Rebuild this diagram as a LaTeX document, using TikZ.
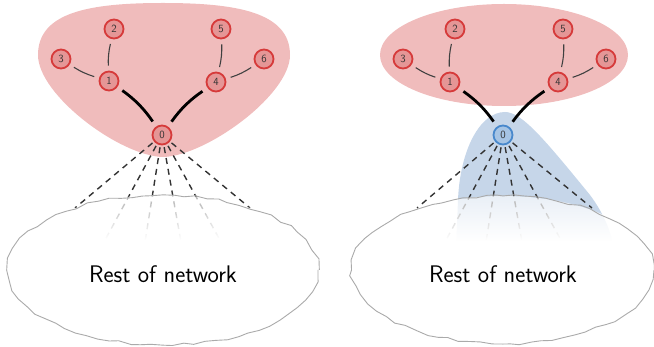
\documentclass[tikz,border=0pt]{standalone}
\usepackage{tikz}
\usetikzlibrary{arrows.meta,calc,positioning,decorations.pathmorphing,fadings}

\definecolor{blobred}{RGB}{240,188,188}
\definecolor{nodered}{RGB}{229,150,150}
\definecolor{rimred}{RGB}{214,58,58}
\definecolor{blobblue}{RGB}{198,214,233}
\definecolor{nodeblue}{RGB}{166,196,228}
\definecolor{rimblue}{RGB}{72,136,204}
\definecolor{cloudgray}{RGB}{170,170,170}

% Zanikanie wewnątrz chmury
\begin{tikzfadingfrompicture}[name=cloudfade]
  \shade[top color=transparent!100, bottom color=transparent!0]
      (-50bp,50bp) rectangle (50bp,10bp);
  \fill[transparent!0]
      (-50bp,10bp) rectangle (50bp,-50bp);
\end{tikzfadingfrompicture}

\begin{document}
\begin{tikzpicture}[
    x=1pt,
    y=-1pt,
    rednode/.style={circle, draw=rimred, fill=nodered, line width=1.8pt,
        minimum size=19pt, inner sep=0pt,
        font=\fontsize{11}{13}\sffamily, text=black!80},
    bluenode/.style={rednode, draw=rimblue, fill=nodeblue},
    thinedge/.style={line width=1.1pt, black!75,
        shorten <=5pt, shorten >=5pt},
    thickedge/.style={line width=2.8pt,
        shorten <=6pt, shorten >=6pt},
    rayline/.style={line width=1.4pt, black!80,
        dash pattern=on 6pt off 5pt, shorten <=2pt},
    cloudline/.style={draw=cloudgray, line width=0.9pt, decorate,
        decoration={random steps, segment length=11pt, amplitude=1.6pt}},
    cloudtext/.style={font=\fontsize{24}{28}\sffamily}
]

\useasboundingbox (0,0) rectangle (654,347);

% Obszar czerwony - lewa część
\fill[blobred]
    (163,157)
    .. controls (120,156) and (38,95) ..
    (38,55)
    .. controls (38,12) and (90,3) ..
    (163,3)
    .. controls (236,3) and (290,12) ..
    (290,55)
    .. controls (290,95) and (206,156) ..
    (163,157);

% Obszar czerwony - prawa część
\fill[blobred]
    (504,55) ellipse (124 and 51);

% Obszar niebieski
\fill[blobblue]
    (456,250)
    --
    (458,200)
    .. controls (460,150) and (480,112) ..
    (505,112)
    .. controls (522,112) and (545,140) ..
    (590,195)
    .. controls (605,215) and (612,235) ..
    (614,250)
    --
    cycle;

% Węzły - lewa część
\node[rednode] (a0) at (162,135) {0};
\node[rednode] (a1) at (109,81) {1};
\node[rednode] (a2) at (114,29) {2};
\node[rednode] (a3) at (61,59) {3};
\node[rednode] (a4) at (216,82) {4};
\node[rednode] (a5) at (221,29) {5};
\node[rednode] (a6) at (264,59) {6};

% Węzły - prawa część
\node[bluenode] (b0) at (503,135) {0};
\node[rednode] (b1) at (450,82) {1};
\node[rednode] (b2) at (455,29) {2};
\node[rednode] (b3) at (403,59) {3};
\node[rednode] (b4) at (558,82) {4};
\node[rednode] (b5) at (563,29) {5};
\node[rednode] (b6) at (606,59) {6};

% Końce promieni
\coordinate (ra1) at (75,208);
\coordinate (ra2) at (104,242);
\coordinate (ra3) at (145,242);
\coordinate (ra4) at (181,242);
\coordinate (ra5) at (221,242);
\coordinate (ra6) at (250,208);

\coordinate (rb1) at (417,208);
\coordinate (rb2) at (445,242);
\coordinate (rb3) at (486,242);
\coordinate (rb4) at (522,242);
\coordinate (rb5) at (562,242);
\coordinate (rb6) at (592,208);

% Promienie przerywane
\draw[rayline] (a0) -- (ra1);
\draw[rayline] (a0) -- (ra2);
\draw[rayline] (a0) -- (ra3);
\draw[rayline] (a0) -- (ra4);
\draw[rayline] (a0) -- (ra5);
\draw[rayline] (a0) -- (ra6);

\draw[rayline] (b0) -- (rb1);
\draw[rayline] (b0) -- (rb2);
\draw[rayline] (b0) -- (rb3);
\draw[rayline] (b0) -- (rb4);
\draw[rayline] (b0) -- (rb5);
\draw[rayline] (b0) -- (rb6);

% Biały gradient w chmurach
\fill[white, path fading=cloudfade]
    (163,270) ellipse (155 and 75);
\fill[white, path fading=cloudfade]
    (503,270) ellipse (151 and 74);

% Chmury
\pgfmathsetseed{11}
\draw[cloudline]
    (163,270) ellipse (155 and 75);
\pgfmathsetseed{23}
\draw[cloudline]
    (503,270) ellipse (151 and 74);

\node[cloudtext] (ta) at (163,274) {Rest of network};
\node[cloudtext] (tb) at (503,274) {Rest of network};

% Krawędzie cienkie
\draw[thinedge] (a1) to[bend left=8] (a2);
\draw[thinedge] (a1) to[bend left=8] (a3);
\draw[thinedge] (a4) to[bend right=8] (a5);
\draw[thinedge] (a4) to[bend right=8] (a6);

\draw[thinedge] (b1) to[bend left=8] (b2);
\draw[thinedge] (b1) to[bend left=8] (b3);
\draw[thinedge] (b4) to[bend right=8] (b5);
\draw[thinedge] (b4) to[bend right=8] (b6);

% Krawędzie grube
\draw[thickedge] (a1) to[bend left=10] (a0);
\draw[thickedge] (a4) to[bend right=10] (a0);

\draw[thickedge] (b1) to[bend left=10] (b0);
\draw[thickedge] (b4) to[bend right=10] (b0);

\end{tikzpicture}
\end{document}
